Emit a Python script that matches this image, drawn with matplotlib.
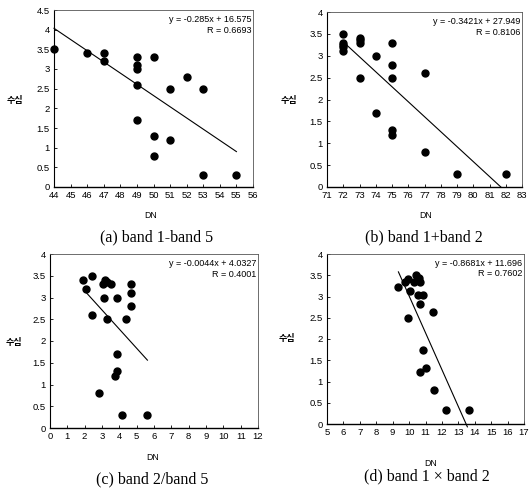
import numpy as np
import matplotlib.pyplot as plt
from matplotlib.ticker import FuncFormatter

plt.rcParams['font.family'] = ['Liberation Sans', 'Noto Sans CJK KR', 'DejaVu Sans']

# (a) band 1 - band 5
dn_a = [44, 46, 47, 47, 49, 49, 49, 49, 49, 50, 50, 50, 51, 51, 52, 53, 53, 55]
depth_a = [3.5, 3.4, 3.4, 3.2, 3.3, 3.1, 3.0, 2.6, 1.7, 3.3, 1.3, 0.8, 2.5, 1.2, 2.8, 2.5, 0.3, 0.3]
fit_a = (-0.285, 16.575)
r_a = 0.6693
xlim_a = (44, 56)
ylim_a = (0, 4.5)

# (b) band 1 + band 2
dn_b = [72, 72, 72, 72, 72, 73, 73, 73, 73, 74, 74, 75, 75, 75, 75, 75, 77, 77, 79, 82]
depth_b = [3.5, 3.3, 3.25, 3.2, 3.1, 3.4, 3.35, 3.3, 2.5, 3.0, 1.7, 3.3, 2.8, 2.5, 1.3, 1.2, 2.6, 0.8, 0.3, 0.3]
fit_b = (-0.3421, 27.949)
r_b = 0.8106
xlim_b = (71, 83)
ylim_b = (0, 4)

# (c) band 2 / band 5  (fit done on ratio x 100)
dn_c = [1.9, 2.05, 2.45, 2.45, 2.82, 3.07, 3.1, 3.2, 3.3, 3.3, 3.5, 3.88, 3.88, 3.75, 3.88,
        4.13, 4.38, 4.65, 4.65, 4.65, 5.62]
depth_c = [3.4, 3.2, 3.5, 2.6, 0.8, 3.3, 3.0, 3.4, 3.35, 2.5, 3.3, 3.0, 1.7, 1.2, 1.3,
           0.3, 2.5, 3.3, 3.1, 2.8, 0.3]
fit_c = (-0.0044, 4.0327)
r_c = 0.4001
xlim_c = (0, 12)
ylim_c = (0, 4)

# (d) band 1 x band 2
dn_d = [9.35, 9.78, 9.92, 9.92, 10.08, 10.29, 10.45, 10.59, 10.65, 10.53, 10.86, 10.65,
        11.47, 10.86, 10.69, 11.06, 11.51, 12.26, 13.68]
depth_d = [3.22, 3.33, 3.41, 2.5, 3.12, 3.35, 3.5, 3.43, 3.35, 3.04, 3.04, 2.82,
           2.63, 1.73, 1.22, 1.32, 0.81, 0.33, 0.33]
fit_d = (-0.8681, 11.696)
r_d = 0.7602
xlim_d = (5, 17)
ylim_d = (0, 4)

W, H = 529, 493
fig = plt.figure(figsize=(W / 100, H / 100), dpi=100)


def px_axes(l, t, r, b):
    return fig.add_axes([l / W, 1 - b / H, (r - l) / W, (b - t) / H])


def fig_text(x, y, s, **kw):
    fig.text(x / W, 1 - y / H, s, **kw)


def panel(box, dn, depth, fit, r, xlim, ylim, x_fit, x_scale, ylab_xy, dn_xy, cap_xy, caption):
    ax = px_axes(*box)
    ax.plot(dn, depth, 'o', color='black', markersize=5, clip_on=False, zorder=3)
    xs = np.array(x_fit)
    ax.plot(xs, fit[0] * xs * x_scale + fit[1], '-', color='black', lw=0.8, clip_on=False)
    ax.set_xlim(*xlim)
    ax.set_ylim(*ylim)
    ax.set_xticks(np.arange(xlim[0], xlim[1] + 1, 1))
    ax.set_yticks(np.arange(ylim[0], ylim[1] + 0.01, 0.5))
    ax.yaxis.set_major_formatter(FuncFormatter(lambda v, p: '%g' % v))
    ax.tick_params(direction='in', length=2, width=0.6, labelsize=6.8, pad=3)
    for side in ['top', 'right']:
        ax.spines[side].set_linewidth(0.6)
        ax.spines[side].set_color('#555555')
    ax.spines['left'].set_linewidth(0.8)
    ax.spines['bottom'].set_linewidth(1.0)
    sign = '-' if fit[0] < 0 else '+'
    ax.text(0.99, 0.97, 'y = %s%gx + %g\nR = %.4f' % (sign, abs(fit[0]), fit[1], r),
            transform=ax.transAxes, ha='right', va='top', fontsize=6.5, linespacing=1.2)
    fig_text(*ylab_xy, '수심', fontsize=6.5, ha='center', va='center', weight='bold',
             family=['Noto Sans CJK KR', 'DejaVu Sans'])
    fig_text(*dn_xy, 'DN', fontsize=6.3, ha='center', va='center')
    fig_text(*cap_xy, caption, fontsize=11.5, ha='center', va='center',
             family=['Liberation Serif', 'DejaVu Serif'])
    return ax


panel((54, 10, 253, 187), dn_a, depth_a, fit_a, r_a, xlim_a, ylim_a, (44, 55), 1,
      (15, 100), (151, 215), (157, 237), '(a) band 1-band 5')
panel((327, 12, 522, 187), dn_b, depth_b, fit_b, r_b, xlim_b, ylim_b, (72, 81.7), 1,
      (289, 100), (426, 215), (424, 237), '(b) band 1+band 2')
panel((50, 254, 258, 428), dn_c, depth_c, fit_c, r_c, xlim_c, ylim_c, (2.0, 5.62), 100,
      (14, 343), (153, 457), (152, 479), '(c) band 2/band 5')
panel((327, 254, 524, 424), dn_d, depth_d, fit_d, r_d, xlim_d, ylim_d, (9.35, 13.55), 1,
      (287, 339), (431, 463), (427, 476), '(d) band 1 × band 2')

plt.savefig('out.png', dpi=100)
